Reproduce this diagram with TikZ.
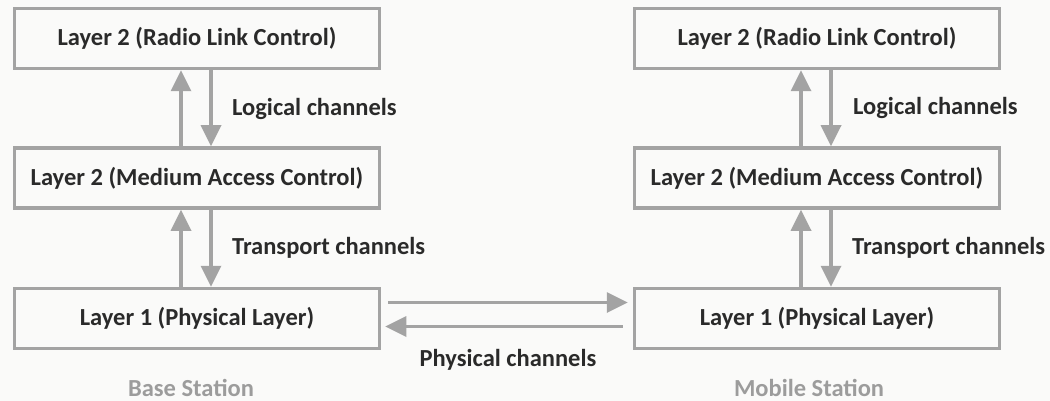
\documentclass[tikz,border=0pt]{standalone}
\usepackage{fontspec}
\setmainfont{Carlito}
\usetikzlibrary{arrows.meta}
\definecolor{linegray}{HTML}{A3A3A3}
\definecolor{textdark}{HTML}{2A2A2A}
\definecolor{labelgray}{HTML}{9C9C9C}
\definecolor{paper}{HTML}{FAFAF9}
\begin{document}
\begin{tikzpicture}[x=1pt,y=-1pt,
  layerbox/.style={draw=linegray, line width=3.5pt, minimum width=365pt,
    minimum height=60pt, inner sep=0pt, text=textdark,
    font=\fontsize{24.5}{28}\selectfont\bfseries},
  chan/.style={draw=linegray, line width=3.5pt,
    -{Triangle[width=20pt,length=21pt]}},
  chanlabel/.style={anchor=west, inner sep=0pt, text=textdark,
    font=\fontsize{24.5}{28}\selectfont\bfseries},
  stationlabel/.style={inner sep=0pt, text=labelgray,
    font=\fontsize{24.5}{28}\selectfont\bfseries}]

% page background and fixed frame
\fill[paper] (0,0) rectangle (1050,401);
\useasboundingbox (0,0) rectangle (1050,401);

% base station protocol stack
\node[layerbox] (rlc1) at (197,38.5) {Layer 2 (Radio Link Control)};
\node[layerbox] (mac1) at (197,178) {Layer 2 (Medium Access Control)};
\node[layerbox] (phy1) at (197,318.5) {Layer 1 (Physical Layer)};

% mobile station protocol stack
\node[layerbox] (rlc2) at (817,38.5) {Layer 2 (Radio Link Control)};
\node[layerbox] (mac2) at (817,178) {Layer 2 (Medium Access Control)};
\node[layerbox] (phy2) at (817,318.5) {Layer 1 (Physical Layer)};

% vertical channels between layers
\foreach \s in {1,2}{
  \draw[chan] ([xshift=-16pt]mac\s.north) -- ([xshift=-16pt]rlc\s.south);
  \draw[chan] ([xshift=14pt]rlc\s.south) -- ([xshift=14pt]mac\s.north);
  \draw[chan] ([xshift=-16pt]phy\s.north) -- ([xshift=-16pt]mac\s.south);
  \draw[chan] ([xshift=14pt]mac\s.south) -- ([xshift=14pt]phy\s.north);
}

% physical channels over the air
\draw[chan, shorten <=7pt, shorten >=5pt]
  ([yshift=16pt]phy1.east) -- ([yshift=16pt]phy1.east -| phy2.west);
\draw[chan, shorten <=10pt, shorten >=4pt]
  ([yshift=-8pt]phy2.west) -- ([yshift=-8pt]phy2.west -| phy1.east);

% channel labels
\node[chanlabel] (log1) at (232,109) {Logical channels};
\node[chanlabel] (tra1) at (232,248) {Transport channels};
\node[chanlabel] (log2) at (853,108) {Logical channels};
\node[chanlabel] (tra2) at (852,248) {Transport channels};
\node[chanlabel, anchor=center] (phys) at (508,360) {Physical channels};

% station captions
\node[stationlabel] (bs) at (191,388) {Base Station};
\node[stationlabel] (ms) at (809,388) {Mobile Station};
\end{tikzpicture}
\end{document}
